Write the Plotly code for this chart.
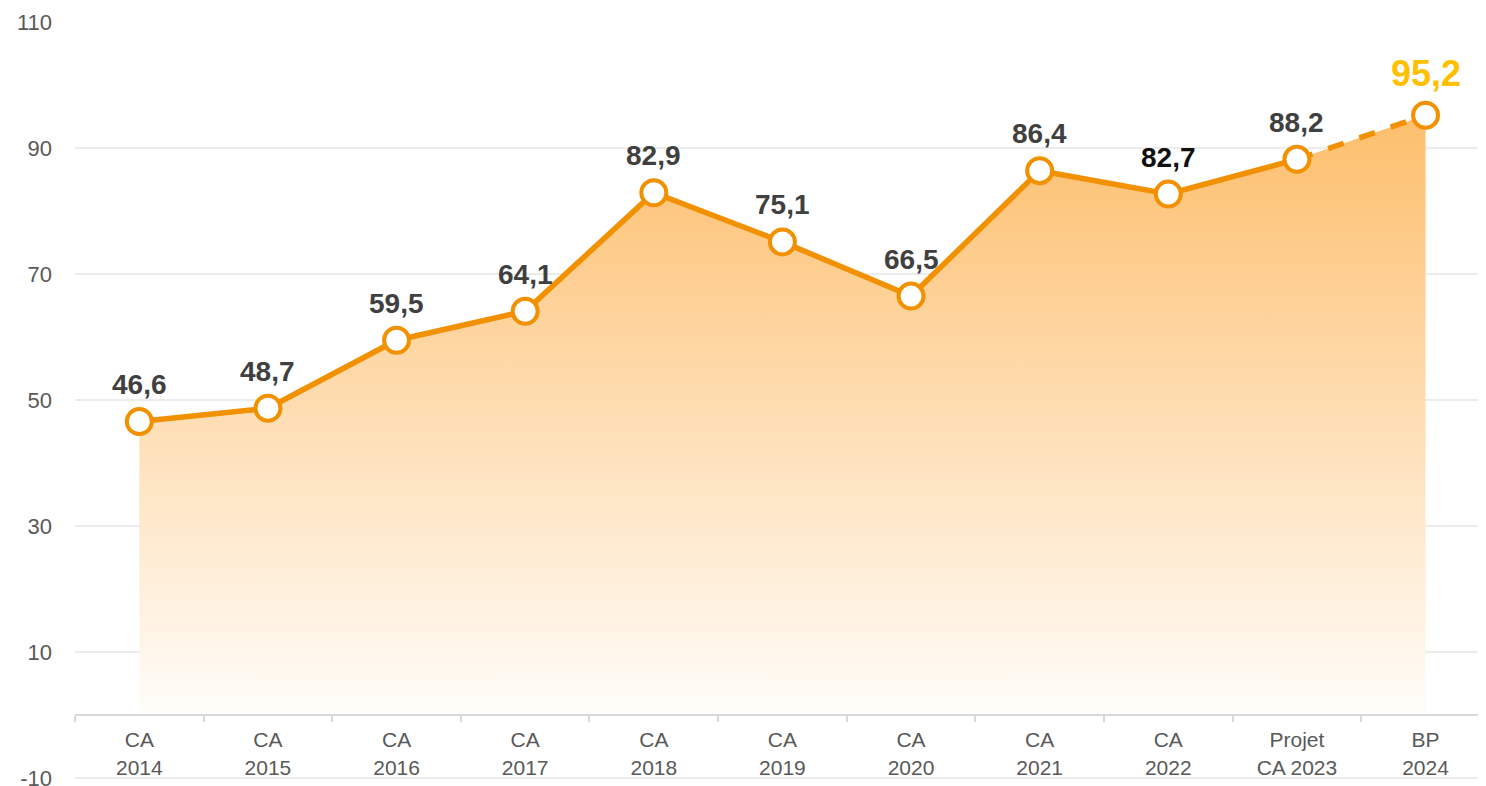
import plotly.graph_objects as go

categories = ["CA<br>2014", "CA<br>2015", "CA<br>2016", "CA<br>2017", "CA<br>2018",
              "CA<br>2019", "CA<br>2020", "CA<br>2021", "CA<br>2022",
              "Projet<br>CA 2023", "BP<br>2024"]
values = [46.6, 48.7, 59.5, 64.1, 82.9, 75.1, 66.5, 86.4, 82.7, 88.2, 95.2]
labels = ["46,6", "48,7", "59,5", "64,1", "82,9", "75,1", "66,5", "86,4", "82,7", "88,2", "95,2"]
y_ticks = [-10, 10, 30, 50, 70, 90, 110]
y_tick_labels = ["-10", "10", "30", "50", "70", "90", "110"]

ORANGE = "#F29100"
FONT = "Liberation Sans, Arial, sans-serif"
Y_MIN, Y_MAX = -10.6, 110.15

fig = go.Figure()

# gradient area
fig.add_trace(go.Scatter(
    x=categories, y=values, mode="lines", line=dict(width=0),
    fill="tozeroy",
    fillgradient=dict(type="vertical", start=0, stop=max(values),
                      colorscale=[[0, "rgba(255,253,250,1)"], [1, "rgb(253,190,108)"]]),
    hoverinfo="skip", showlegend=False))

# solid line (actuals)
fig.add_trace(go.Scatter(
    x=categories[:-1], y=values[:-1], mode="lines",
    line=dict(color=ORANGE, width=5.5), showlegend=False, hoverinfo="skip"))

# dashed line (forecast)
fig.add_trace(go.Scatter(
    x=categories[-2:], y=values[-2:], mode="lines",
    line=dict(color=ORANGE, width=5.5, dash="dash"), showlegend=False, hoverinfo="skip"))

# markers
fig.add_trace(go.Scatter(
    x=categories, y=values, mode="markers",
    marker=dict(size=25, color="white", line=dict(color=ORANGE, width=4)),
    showlegend=False, hoverinfo="skip"))

for i, (v, t) in enumerate(zip(values, labels)):
    if i == len(values) - 1:
        col, size, shift = "#FFC000", 36, 42
    elif t == "82,7":
        col, size, shift = "#111111", 28, 37
    else:
        col, size, shift = "#404040", 28, 37
    fig.add_annotation(x=categories[i], y=v, text=f"<b>{t}</b>", showarrow=False,
                       yshift=shift, yanchor="middle",
                       font=dict(family=FONT, size=size, color=col))

fig.update_layout(
    width=1478, height=790,
    margin=dict(l=67, r=0, t=13, b=16),
    paper_bgcolor="white", plot_bgcolor="white",
    font=dict(family=FONT, color="#595959"),
    xaxis=dict(
        type="category", categoryorder="array", categoryarray=categories,
        range=[-0.5, 10.47], showgrid=False, zeroline=False, automargin=False,
        showline=True, linecolor="#d9d9d9", linewidth=2,
        ticks="outside", tickson="boundaries", ticklen=6, tickcolor="#d9d9d9", tickwidth=2,
        anchor="free", position=(0 - Y_MIN) / (Y_MAX - Y_MIN), ticklabelstandoff=6,
        tickfont=dict(family=FONT, size=21, color="#595959"),
    ),
    yaxis=dict(
        range=[Y_MIN, Y_MAX], tickmode="array", tickvals=y_ticks, ticktext=y_tick_labels,
        automargin=False,
        showgrid=True, gridcolor="#ececec", gridwidth=1.5, zeroline=False,
        showline=False, ticks="", ticklabelstandoff=22, ticklabeloverflow="allow",
        tickfont=dict(family=FONT, size=22, color="#595959"),
    ),
)

fig.write_html("out.html")
